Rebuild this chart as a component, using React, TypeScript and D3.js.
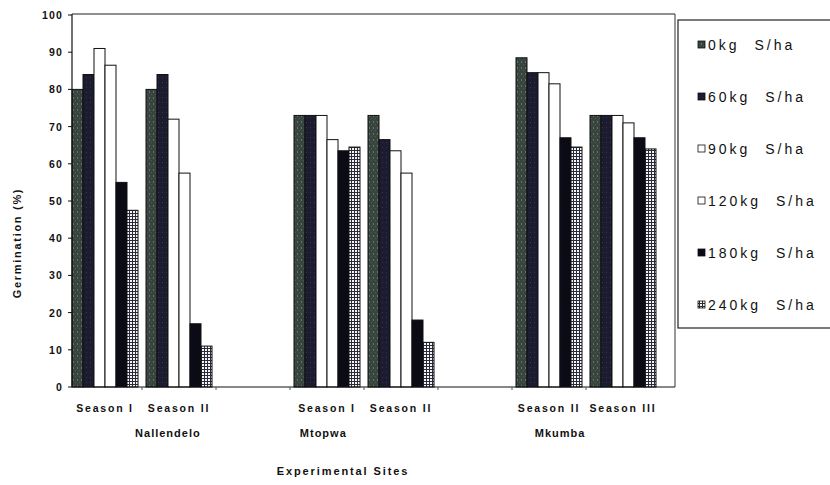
import React from "react";
import * as d3 from "d3";

// ---- data ----
const categories = ["Season I", "Season II", "", "Season I", "Season II", "", "Season II", "Season III"];
const groupSlots = [0, 1, 3, 4, 6, 7];
const sites = ["Nallendelo", "Mtopwa", "Mkumba"];
const siteSlotPos = [1.35, 3.45, 6.65];
const seriesNames = ["0kg S/ha", "60kg S/ha", "90kg S/ha", "120kg S/ha", "180kg S/ha", "240kg S/ha"];
const kg0 = [80, 80, 73, 73, 88.5, 73];
const kg60 = [84, 84, 73, 66.5, 84.5, 73];
const kg90 = [91, 72, 73, 63.5, 84.5, 73];
const kg120 = [86.5, 57.5, 66.5, 57.5, 81.5, 71];
const kg180 = [55, 17, 63.5, 18, 67, 67];
const kg240 = [47.5, 11, 64.5, 12, 64.5, 64];
const seriesValues = [kg0, kg60, kg90, kg120, kg180, kg240];
const yTicks = [0, 10, 20, 30, 40, 50, 60, 70, 80, 90, 100];

const fills = ["url(#pat0)", "url(#pat60)", "#ffffff", "#ffffff", "#0b0b16", "url(#pat240)"];
const FONT = "'Liberation Sans', Arial, sans-serif";

export default function App() {
  const left = 72, right = 675, top = 14, bottom = 387;
  const x = d3.scaleBand<number>().domain(d3.range(categories.length)).range([68, 660]).paddingInner(0).paddingOuter(0);
  const step = x.step();
  const groupW = 66;
  const xs = d3.scaleBand<number>().domain(d3.range(seriesNames.length)).range([0, groupW]).padding(0);
  const y = d3.scaleLinear().domain([0, 100]).range([bottom, 15]);
  const legY = d3.scaleLinear().domain([0, 5]).range([45, 305]);
  const siteX = d3.scaleLinear().domain([0, categories.length]).range(x.range());

  return (
    <svg width={830} height={485} style={{ position: "absolute", left: 0, top: 0, background: "#fff" }}>
      <defs>
        <pattern id="pat0" width="4" height="6" patternUnits="userSpaceOnUse">
          <rect width="4" height="6" fill="#38453f" />
          <rect x="1" y="1" width="1" height="2" fill="#64716b" />
          <rect x="3" y="4" width="1" height="1" fill="#4e5b55" />
        </pattern>
        <pattern id="pat60" width="4" height="5" patternUnits="userSpaceOnUse">
          <rect width="4" height="5" fill="#1c1c30" />
          <rect x="2" y="2" width="1" height="1" fill="#33344a" />
        </pattern>
        <pattern id="pat240" width="3" height="3" patternUnits="userSpaceOnUse">
          <rect width="3" height="3" fill="#2a2a3a" />
          <rect x="1" y="1" width="2" height="2" fill="#f4f4f4" />
        </pattern>
      </defs>

      {/* frame */}
      <line x1={left} x2={right} y1={top} y2={top} stroke="#222" strokeWidth={1.2} />
      <line x1={right} x2={right} y1={top} y2={bottom} stroke="#333" strokeWidth={1} />

      {/* bars */}
      {groupSlots.map((slot, g) => {
        const gx = (x(slot) as number) + (step - groupW) / 2;
        return seriesValues.map((vals, s) => (
          <rect
            key={`${g}-${s}`}
            x={gx + (xs(s) as number)}
            y={y(vals[g])}
            width={xs.bandwidth()}
            height={bottom - y(vals[g])}
            fill={fills[s]}
            stroke="#111"
            strokeWidth={1}
          />
        ));
      })}

      {/* axes */}
      <line x1={left} x2={left} y1={top} y2={bottom} stroke="#111" strokeWidth={1.2} />
      <line x1={left} x2={right} y1={bottom} y2={bottom} stroke="#111" strokeWidth={1.2} />
      {yTicks.map((t) => (
        <g key={t}>
          <line x1={left - 4} x2={left} y1={y(t)} y2={y(t)} stroke="#111" />
          <text x={63} y={y(t) + 4} textAnchor="end" fontFamily={FONT} fontWeight="bold" fontSize={10.5} letterSpacing={1.2} fill="#111">
            {t}
          </text>
        </g>
      ))}
      {d3.range(1, categories.length).map((i) => (
        <line key={i} x1={x(i) as number} x2={x(i) as number} y1={bottom} y2={bottom + 3} stroke="#555" />
      ))}

      {/* category labels */}
      {categories.map((c, i) =>
        c ? (
          <text key={i} x={(x(i) as number) + step / 2} y={412} textAnchor="middle" fontFamily={FONT} fontWeight="bold" fontSize={10.5} letterSpacing={1.8} fill="#111">
            {c}
          </text>
        ) : null
      )}

      {/* site labels */}
      {sites.map((s, i) => (
        <text key={s} x={siteX(siteSlotPos[i])} y={437} textAnchor="middle" fontFamily={FONT} fontWeight="bold" fontSize={11} letterSpacing={1} fill="#111">
          {s}
        </text>
      ))}

      <text x={343} y={475} textAnchor="middle" fontFamily={FONT} fontWeight="bold" fontSize={11} letterSpacing={1.9} fill="#111">
        Experimental Sites
      </text>
      <text transform="translate(21,243) rotate(-90)" textAnchor="middle" fontFamily={FONT} fontWeight="bold" fontSize={11} letterSpacing={1.7} fill="#111">
        Germination (%)
      </text>

      {/* legend */}
      <rect x={678} y={20} width={170} height={308} fill="#fff" stroke="#222" strokeWidth={1.2} />
      {seriesNames.map((n, i) => (
        <g key={n}>
          <rect x={698} y={legY(i) - 4} width={7} height={7} fill={fills[i]} stroke="#111" strokeWidth={0.8} />
          <text x={708} y={legY(i) + 5} fontFamily={FONT} fontSize={14} letterSpacing={3} wordSpacing={8} fill="#111">
            {n}
          </text>
        </g>
      ))}
    </svg>
  );
}
